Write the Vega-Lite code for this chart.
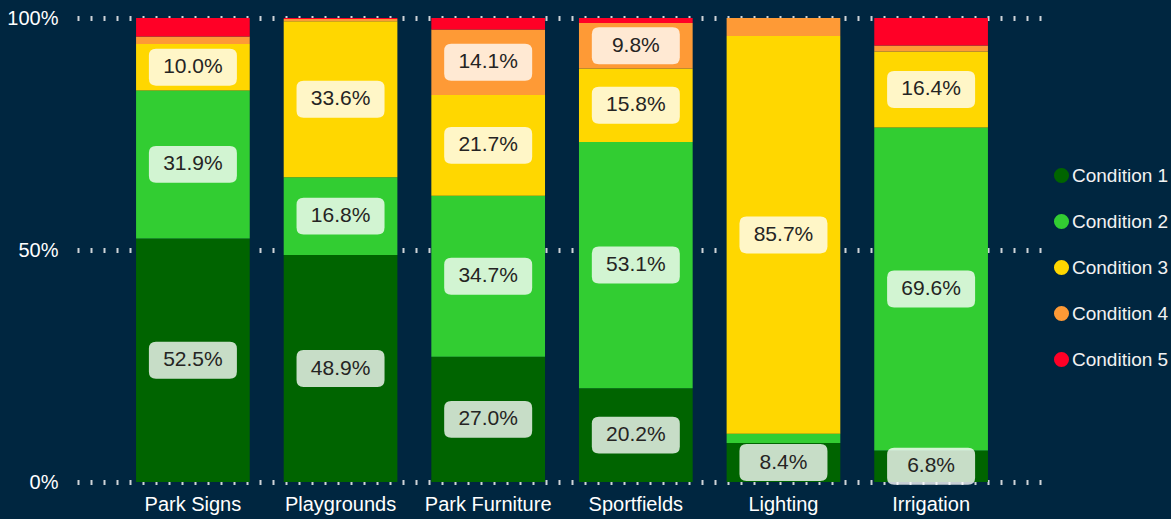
{
  "$schema": "https://vega.github.io/schema/vega-lite/v6.json",
  "width": 970,
  "height": 464,
  "autosize": {"type": "none"},
  "padding": {"left": 77, "top": 18, "right": 124, "bottom": 37},
  "background": "#002640",
  "config": {
    "view": {"stroke": null},
    "font": "Liberation Sans, Arial, sans-serif"
  },
  "data": {
    "values": [
      {"asset": "Park Signs", "cond": "Condition 1", "pct": 0.525},
      {"asset": "Park Signs", "cond": "Condition 2", "pct": 0.319},
      {"asset": "Park Signs", "cond": "Condition 3", "pct": 0.100},
      {"asset": "Park Signs", "cond": "Condition 4", "pct": 0.016},
      {"asset": "Park Signs", "cond": "Condition 5", "pct": 0.040},
      {"asset": "Playgrounds", "cond": "Condition 1", "pct": 0.489},
      {"asset": "Playgrounds", "cond": "Condition 2", "pct": 0.168},
      {"asset": "Playgrounds", "cond": "Condition 3", "pct": 0.336},
      {"asset": "Playgrounds", "cond": "Condition 4", "pct": 0.005},
      {"asset": "Playgrounds", "cond": "Condition 5", "pct": 0.002},
      {"asset": "Park Furniture", "cond": "Condition 1", "pct": 0.270},
      {"asset": "Park Furniture", "cond": "Condition 2", "pct": 0.347},
      {"asset": "Park Furniture", "cond": "Condition 3", "pct": 0.217},
      {"asset": "Park Furniture", "cond": "Condition 4", "pct": 0.141},
      {"asset": "Park Furniture", "cond": "Condition 5", "pct": 0.025},
      {"asset": "Sportfields", "cond": "Condition 1", "pct": 0.202},
      {"asset": "Sportfields", "cond": "Condition 2", "pct": 0.531},
      {"asset": "Sportfields", "cond": "Condition 3", "pct": 0.158},
      {"asset": "Sportfields", "cond": "Condition 4", "pct": 0.098},
      {"asset": "Sportfields", "cond": "Condition 5", "pct": 0.011},
      {"asset": "Lighting", "cond": "Condition 1", "pct": 0.084},
      {"asset": "Lighting", "cond": "Condition 2", "pct": 0.020},
      {"asset": "Lighting", "cond": "Condition 3", "pct": 0.857},
      {"asset": "Lighting", "cond": "Condition 4", "pct": 0.039},
      {"asset": "Lighting", "cond": "Condition 5", "pct": 0.0},
      {"asset": "Irrigation", "cond": "Condition 1", "pct": 0.068},
      {"asset": "Irrigation", "cond": "Condition 2", "pct": 0.696},
      {"asset": "Irrigation", "cond": "Condition 3", "pct": 0.164},
      {"asset": "Irrigation", "cond": "Condition 4", "pct": 0.013},
      {"asset": "Irrigation", "cond": "Condition 5", "pct": 0.059}
    ]
  },
  "encoding": {
    "x": {
      "field": "asset",
      "type": "nominal",
      "sort": ["Park Signs", "Playgrounds", "Park Furniture", "Sportfields", "Lighting", "Irrigation"],
      "scale": {"paddingInner": 0.23, "paddingOuter": 0.4},
      "axis": {
        "title": null,
        "labelAngle": 0,
        "labelColor": "#ffffff",
        "labelFontSize": 20,
        "labelPadding": 12,
        "ticks": false,
        "domain": false
      }
    }
  },
  "layer": [
    {
      "mark": {"type": "bar"},
      "encoding": {
        "y": {
          "field": "pct",
          "type": "quantitative",
          "stack": "zero",
          "scale": {"domain": [0, 1]},
          "axis": {
            "title": null,
            "values": [0, 0.5, 1],
            "format": ".0%",
            "labelColor": "#ffffff",
            "labelFontSize": 20,
            "labelPadding": 19,
            "ticks": false,
            "domain": false,
            "grid": true,
            "gridColor": "#cfd4d8",
            "gridDash": [2, 11],
            "gridWidth": 5
          }
        },
        "color": {
          "field": "cond",
          "type": "nominal",
          "scale": {
            "domain": ["Condition 1", "Condition 2", "Condition 3", "Condition 4", "Condition 5"],
            "range": ["#006400", "#32CD32", "#FFD700", "#FE9A36", "#FF0026"]
          },
          "legend": {
            "orient": "none",
            "legendX": 975,
            "legendY": 148,
            "title": null,
            "symbolType": "circle",
            "symbolSize": 227,
            "symbolStrokeWidth": 0,
            "labelFontSize": 19,
            "labelColor": "#f2f2f2",
            "labelOffset": 1,
            "rowPadding": 26,
            "padding": 0
          }
        },
        "order": {"field": "cond", "type": "nominal", "sort": "ascending"}
      }
    },
    {
      "transform": [
        {"stack": "pct", "groupby": ["asset"], "sort": [{"field": "cond", "order": "ascending"}], "as": ["y0", "y1"]},
        {"calculate": "(datum.y0 + datum.y1) / 2", "as": "ymid"},
        {"filter": "datum.pct >= 0.06"}
      ],
      "mark": {
        "type": "point",
        "shape": "M-0.84,-0.42L0.84,-0.42Q1,-0.42 1,-0.26L1,0.26Q1,0.42 0.84,0.42L-0.84,0.42Q-1,0.42 -1,0.26L-1,-0.26Q-1,-0.42 -0.84,-0.42Z",
        "size": 7744,
        "filled": true,
        "fill": "#ffffff",
        "fillOpacity": 0.78,
        "opacity": 1,
        "strokeWidth": 0
      },
      "encoding": {
        "y": {"field": "ymid", "type": "quantitative", "title": null}
      }
    },
    {
      "transform": [
        {"stack": "pct", "groupby": ["asset"], "sort": [{"field": "cond", "order": "ascending"}], "as": ["y0", "y1"]},
        {"calculate": "(datum.y0 + datum.y1) / 2", "as": "ymid"},
        {"filter": "datum.pct >= 0.06"}
      ],
      "mark": {"type": "text", "fontSize": 21, "color": "#252423", "baseline": "middle", "align": "center"},
      "encoding": {
        "y": {"field": "ymid", "type": "quantitative", "title": null},
        "text": {"field": "pct", "type": "quantitative", "format": ".1%"}
      }
    }
  ]
}
